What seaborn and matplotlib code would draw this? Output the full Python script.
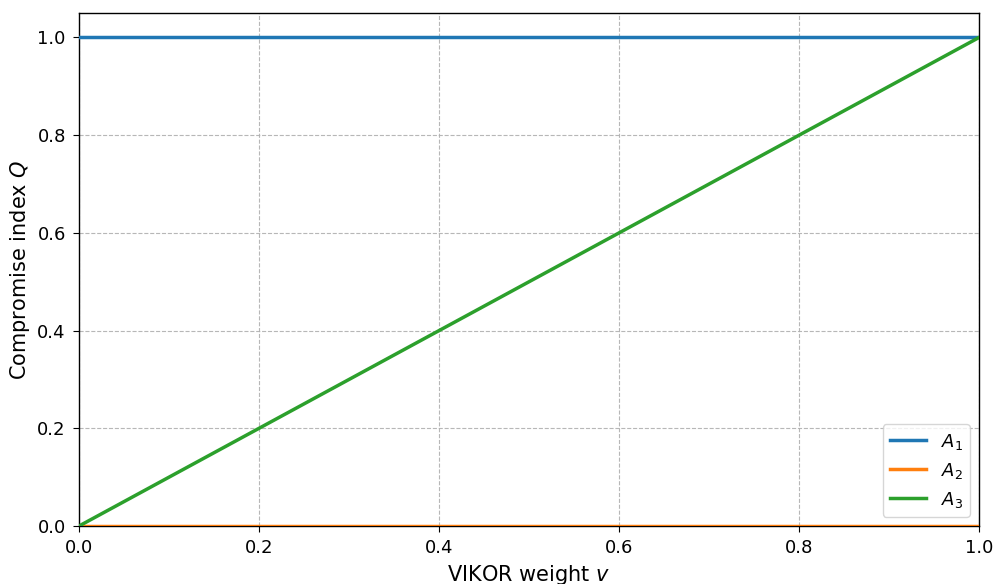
import matplotlib
matplotlib.use("Agg")
import matplotlib.pyplot as plt
import seaborn as sns
import pandas as pd

v_values = [0.0, 0.25, 0.5, 0.75, 1.0]
q_a1 = [1.0, 1.0, 1.0, 1.0, 1.0]
q_a2 = [0.0, 0.0, 0.0, 0.0, 0.0]
q_a3 = [0.0, 0.25, 0.5, 0.75, 1.0]
labels = ["$A_1$", "$A_2$", "$A_3$"]
colors = ["#1f77b4", "#ff7f0e", "#2ca02c"]

rows = []
for lab, q in zip(labels, [q_a1, q_a2, q_a3]):
    for v, val in zip(v_values, q):
        rows.append({"v": v, "Q": val, "alt": lab})
df = pd.DataFrame(rows)

plt.rcParams["font.family"] = ["DejaVu Sans"]
fig = plt.figure(figsize=(9.93, 5.84), dpi=100)
ax = fig.add_axes([0.0796, 0.0993, 0.9064, 0.8784])

sns.lineplot(data=df, x="v", y="Q", hue="alt", palette=colors, hue_order=labels,
             linewidth=2.5, ax=ax, zorder=3)

ax.set_xlim(0, 1)
ax.set_ylim(0, 1.05)
ax.set_xticks([0, 0.2, 0.4, 0.6, 0.8, 1.0])
ax.set_yticks([0, 0.2, 0.4, 0.6, 0.8, 1.0])
ax.tick_params(labelsize=13, length=4.5, pad=5)
ax.grid(True, linestyle="--", color="#b0b0b0", linewidth=0.8, alpha=0.9)
ax.set_xlabel("VIKOR weight $v$", fontsize=15)
ax.set_ylabel("Compromise index $Q$", fontsize=15)
for s in ax.spines.values():
    s.set_color("black")
    s.set_linewidth(1.0)
ax.legend(loc="lower right", fontsize=13, title=None, frameon=True)

fig.savefig("out.png", dpi=100)
